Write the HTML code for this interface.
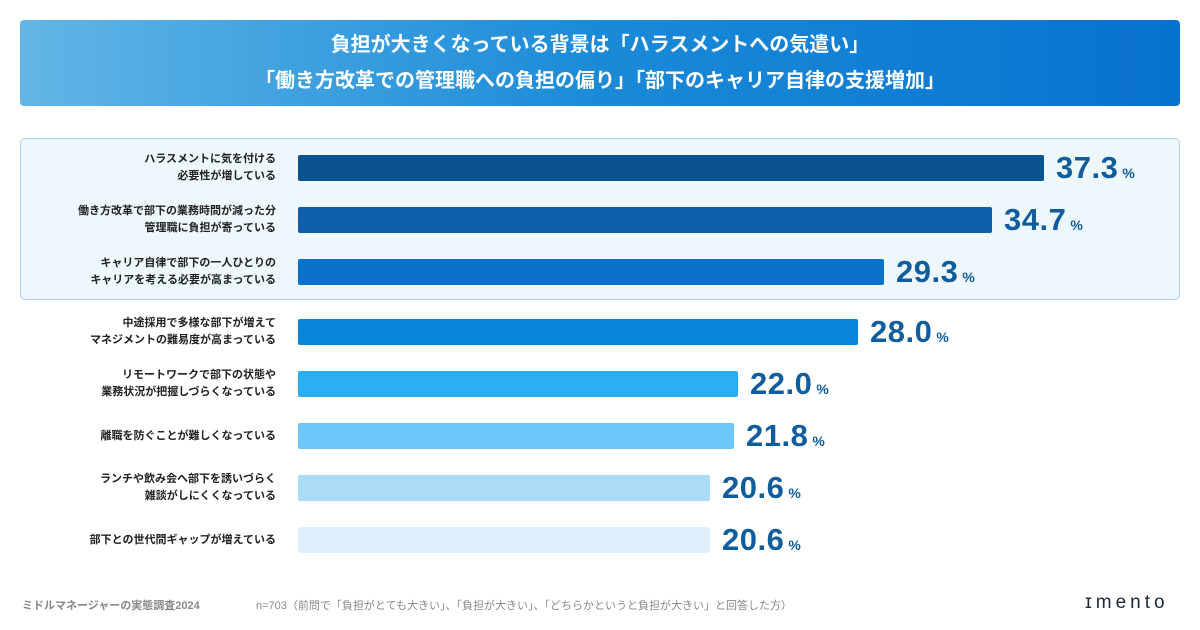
<!DOCTYPE html>
<html><head><meta charset="utf-8"><style>
body{margin:0;width:1200px;height:630px;background:#fff;font-family:"Liberation Sans","Noto Sans CJK JP",sans-serif;position:relative;overflow:hidden}
.title{position:absolute;left:20px;top:20px;width:1160px;height:86px;border-radius:4px;background:linear-gradient(90deg,#62b6e6,#1a8ad8 50%,#0872cf);color:#fff;font-weight:700;font-size:20px;text-align:center;line-height:36px;padding-top:7px;box-sizing:border-box}
.hl{position:absolute;left:20px;top:138px;width:1160px;height:162px;box-sizing:border-box;border:1px solid #a9d4ea;border-radius:5px;background:#eef7fc}
.lab{position:absolute;right:924px;font-size:11px;font-weight:700;color:#222;text-align:right;line-height:17px}
.bar{position:absolute;height:26px;border-radius:2px}
.val{position:absolute;font-size:31px;font-weight:700;color:#0f5d9c;line-height:30px;letter-spacing:0.5px}
.val span{font-size:14px;margin-left:4px;letter-spacing:0}
.foot{position:absolute;top:597px;font-size:11px;color:#888}
</style></head><body>
<div class="title">負担が大きくなっている背景は「ハラスメントへの気遣い」<br>「働き方改革での管理職への負担の偏り」「部下のキャリア自律の支援増加」</div>
<div class="hl"></div>
<div id="chart"></div>
<div class="foot" style="left:22px;font-weight:700">ミドルマネージャーの実態調査2024</div>
<div class="foot" style="left:256px">n=703（前問で「負担がとても大きい」、「負担が大きい」、「どちらかというと負担が大きい」と回答した方）</div>
<div style="position:absolute;left:1085px;top:592px;font-size:19px;letter-spacing:4px;color:#1a2a3a">ɪmento</div>
<script>
const categories=["ハラスメントに気を付ける<br>必要性が増している","働き方改革で部下の業務時間が減った分<br>管理職に負担が寄っている","キャリア自律で部下の一人ひとりの<br>キャリアを考える必要が高まっている","中途採用で多様な部下が増えて<br>マネジメントの難易度が高まっている","リモートワークで部下の状態や<br>業務状況が把握しづらくなっている","離職を防ぐことが難しくなっている","ランチや飲み会へ部下を誘いづらく<br>雑談がしにくくなっている","部下との世代間ギャップが増えている"];
const values=[37.3,34.7,29.3,28.0,22.0,21.8,20.6,20.6];
const colors=["#0b5290","#0c5fa8","#0a72c8","#0a84d8","#2aaef5","#6cc6f7","#aadcf8","#dceffb"];
const x0=298,scale=20;
const yc=i=>168+i*52+(i>=3?8:0);
const c=document.getElementById('chart');
categories.forEach((cat,i)=>{
 const y=yc(i);
 const l=document.createElement('div');l.className='lab';l.innerHTML=cat;
 
 
 const lines=cat.split('<br>').length;l.style.top=(y-lines*17/2)+'px';c.appendChild(l);
 const b=document.createElement('div');b.className='bar';
 
 
 b.style.left=x0+'px';b.style.top=(y-13)+'px';b.style.width=(values[i]*scale)+'px';b.style.background=colors[i];c.appendChild(b);
 const v=document.createElement('div');v.className='val';
 
 
 v.innerHTML=values[i].toFixed(1)+'<span>%</span>';v.style.left=(x0+values[i]*scale+12)+'px';v.style.top=(y-15)+'px';c.appendChild(v);
});
</script>
</body></html>
